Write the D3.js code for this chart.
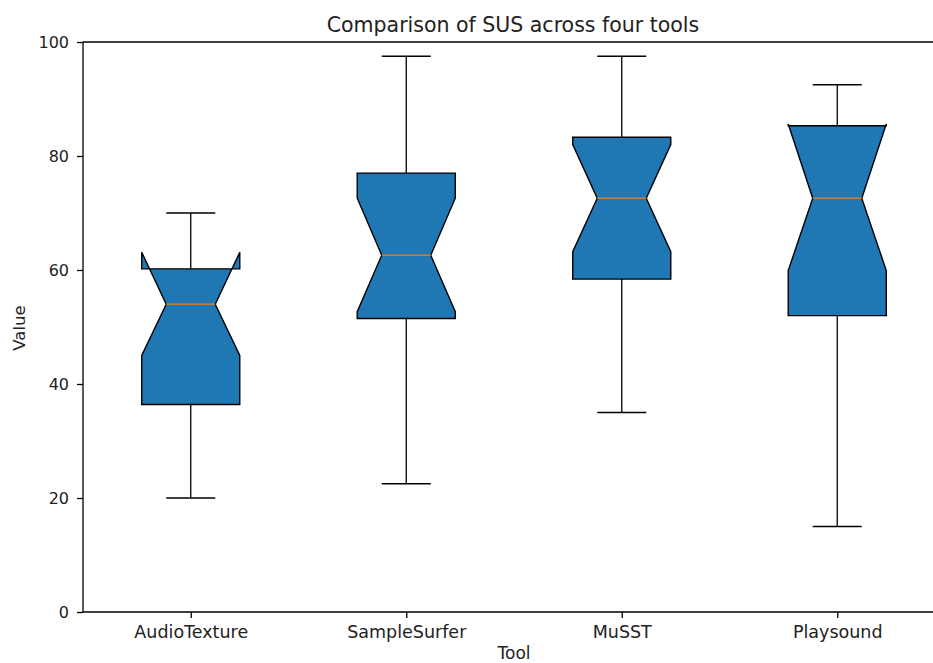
<!DOCTYPE html>
<html><head><meta charset="utf-8">
<script src="https://cdn.jsdelivr.net/npm/d3@7"></script>
<style>body{margin:0;background:#fff}svg{display:block}text{font-family:"DejaVu Sans",sans-serif;fill:#222}</style>
</head><body><svg id="c" width="933" height="663"></svg>
<script>
const tools = ["AudioTexture","SampleSurfer","MuSST","Playsound"];
const whiskerLow = [20, 22.5, 35, 15];
const q1 = [36.4, 51.5, 58.4, 52];
const median = [54, 62.6, 72.6, 72.6];
const q3 = [60.2, 77, 83.3, 85.3];
const whiskerHigh = [70, 97.5, 97.5, 92.5];
const notchLow = [45, 52.7, 63.2, 59.9];
const notchHigh = [63.1, 72.6, 82.0, 85.6];
const yTicks = [0,20,40,60,80,100];

const svg = d3.select("#c");
const L=83, R=945, T=42, B=612;
const x = d3.scaleLinear().domain([0.5,4.5]).range([L,R]);
const y = d3.scaleLinear().domain([0,100]).range([B,T]);
const bw = 0.455, hw = bw/2, nw = bw/4;

const g = svg.append("g");
tools.forEach((t,i)=>{
  const c=i+1;
  g.append("line").attr("x1",x(c)).attr("x2",x(c)).attr("y1",y(q3[i])).attr("y2",y(whiskerHigh[i])).attr("stroke","#000").attr("stroke-width",1.3);
  g.append("line").attr("x1",x(c)).attr("x2",x(c)).attr("y1",y(q1[i])).attr("y2",y(whiskerLow[i])).attr("stroke","#000").attr("stroke-width",1.3);
  [whiskerHigh[i],whiskerLow[i]].forEach(v=>{
    g.append("line").attr("x1",x(c-nw)).attr("x2",x(c+nw)).attr("y1",y(v)).attr("y2",y(v)).attr("stroke","#000").attr("stroke-width",1.3);
  });
  const pts=[[c-hw,q1[i]],[c+hw,q1[i]],[c+hw,notchLow[i]],[c+nw,median[i]],[c+hw,notchHigh[i]],[c+hw,q3[i]],[c-hw,q3[i]],[c-hw,notchHigh[i]],[c-nw,median[i]],[c-hw,notchLow[i]]];
  g.append("path").attr("d",d3.line().x(d=>x(d[0])).y(d=>y(d[1]))(pts)+"Z")
   .attr("fill","#1f77b4").attr("stroke","#000").attr("stroke-width",1.4).attr("stroke-linejoin","miter");
  g.append("line").attr("x1",x(c-nw)).attr("x2",x(c+nw)).attr("y1",y(median[i])).attr("y2",y(median[i])).attr("stroke","#ff7f0e").attr("stroke-width",1.3);
});

const ya = svg.append("g").attr("transform",`translate(${L},0)`).call(d3.axisLeft(y).tickValues(yTicks).tickSize(6).tickPadding(8));
const xa = svg.append("g").attr("transform",`translate(0,${B})`).call(d3.axisBottom(x).tickValues([1,2,3,4]).tickFormat((d,i)=>tools[i]).tickSize(6).tickPadding(8));
ya.selectAll("text").style("font-size","16px");
xa.selectAll("text").style("font-size","17.5px");
[ya,xa].forEach(a=>{a.selectAll("text").attr("fill","#222");a.selectAll("line,path").attr("stroke","#000").attr("stroke-width",1.3);});
xa.select(".domain").attr("d",`M${L},0H${R}`);
ya.select(".domain").attr("d",`M0,${B}V${T}`);
svg.append("line").attr("x1",L).attr("x2",R).attr("y1",T).attr("y2",T).attr("stroke","#000").attr("stroke-width",1.3);

svg.append("text").attr("x",513).attr("y",32).attr("text-anchor","middle").style("font-size","20.5px").text("Comparison of SUS across four tools");
svg.append("text").attr("x",514).attr("y",659).attr("text-anchor","middle").style("font-size","17px").text("Tool");
svg.append("text").attr("transform","translate(25,328) rotate(-90)").attr("text-anchor","middle").style("font-size","16.5px").text("Value");
</script></body></html>
